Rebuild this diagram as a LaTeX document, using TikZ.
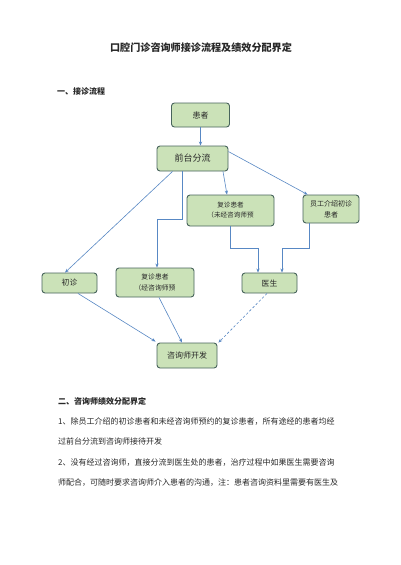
\documentclass[tikz,border=0pt]{standalone}
\usepackage{fontspec}
\newfontfamily\cjk{Noto Sans CJK SC}
\usetikzlibrary{arrows.meta}
\definecolor{boxfill}{RGB}{203,226,184}
\definecolor{boxline}{RGB}{72,100,92}
\definecolor{arr}{RGB}{88,136,196}
\definecolor{txt}{RGB}{40,40,40}
\tikzset{
  flowbox/.style={draw=boxline, line width=0.9pt, fill=boxfill, rounded corners=3pt,
    inner sep=0pt, align=center, text=txt, font=\cjk},
  conn/.style={draw=arr, line width=0.6pt, -{Stealth[length=4pt,width=3.2pt]}},
  para/.style={anchor=west, inner sep=0pt, text=txt, font=\cjk\fontsize{8}{9}\selectfont}
}
\begin{document}
\begin{tikzpicture}[x=1pt,y=-1pt]
\fill[white] (0,0) rectangle (400,565);
\useasboundingbox (0,0) rectangle (400,565);

\node[inner sep=0pt, font=\cjk\bfseries\fontsize{10.1}{12}\selectfont, text=txt] (title) at (201,48) {口腔门诊咨询师接诊流程及绩效分配界定};
\node[para, font=\cjk\bfseries\fontsize{8}{9}\selectfont] (h1) at (57,91) {一、接诊流程};

\node[flowbox, minimum width=58pt, minimum height=24pt, font=\cjk\fontsize{8}{9}\selectfont] (huanzhe) at (200.5,115) {患者};
\node[flowbox, minimum width=71pt, minimum height=25pt, font=\cjk\fontsize{9}{10}\selectfont] (qiantai) at (192.5,158.5) {前台分流};
\node[flowbox, minimum width=87pt, minimum height=31pt, font=\cjk\fontsize{6.6}{10}\selectfont] (fuzhenA) at (230.5,210.5) {复诊患者\\（未经咨询师预};
\node[flowbox, minimum width=56pt, minimum height=28pt, font=\cjk\fontsize{7}{11}\selectfont] (yuangong) at (331,209) {员工介绍初诊\\患者};
\node[flowbox, minimum width=55pt, minimum height=20pt, font=\cjk\fontsize{7.8}{9}\selectfont] (chuzhen) at (69.5,283) {初诊};
\node[flowbox, minimum width=78pt, minimum height=29pt, font=\cjk\fontsize{6.8}{11}\selectfont] (fuzhenB) at (155,282.5) {复诊患者\\（经咨询师预};
\node[flowbox, minimum width=55pt, minimum height=20pt, font=\cjk\fontsize{7.8}{9}\selectfont] (yisheng) at (269.5,283) {医生};
\node[flowbox, minimum width=60pt, minimum height=25pt, font=\cjk\fontsize{8}{9}\selectfont] (zixun) at (187,355.5) {咨询师开发};

\draw[conn] (huanzhe.south) -- (huanzhe.south |- qiantai.north);
\draw[conn] ([xshift=-20pt]qiantai.south) -- ([xshift=-4.5pt]chuzhen.north);
\draw[conn] ([xshift=-10.5pt]qiantai.south) -- ++(0,48) -| ([xshift=2pt]fuzhenB.north);
\draw[conn] ([xshift=30.5pt]qiantai.south) -- ([xshift=-3.5pt]fuzhenA.north);
\draw[conn] ([yshift=-6pt]qiantai.north east) -- ([xshift=5pt]yuangong.north west);
\draw[conn] (fuzhenA.south) -- ++(0,22) -| ([xshift=-11.5pt]yisheng.north);
\draw[conn] ([xshift=-22pt]yuangong.south) -- ++(0,25) -| ([xshift=12.5pt]yisheng.north);
\draw[conn] ([xshift=8.5pt]chuzhen.south) -- ([xshift=-1pt,yshift=1pt]zixun.north west);
\draw[conn] ([xshift=4pt]fuzhenB.south) -- ([xshift=-5pt]zixun.north);
\draw[conn, dashed, dash pattern=on 2.5pt off 2pt] ([xshift=-2.5pt]yisheng.south) -- ([xshift=1pt]zixun.north east);

\node[para, font=\cjk\bfseries\fontsize{8}{9}\selectfont] (h2) at (58,401) {二、咨询师绩效分配界定};
\node[para] (l1) at (58,422) {1、除员工介绍的初诊患者和未经咨询师预约的复诊患者，所有途经的患者均经};
\node[para] (l2) at (58,441) {过前台分流到咨询师接待开发};
\node[para] (l3) at (58,463) {2、没有经过咨询师，直接分流到医生处的患者，治疗过程中如果医生需要咨询};
\node[para] (l4) at (58,483) {师配合，可随时要求咨询师介入患者的沟通，注：患者咨询资料里需要有医生及};
\end{tikzpicture}
\end{document}
